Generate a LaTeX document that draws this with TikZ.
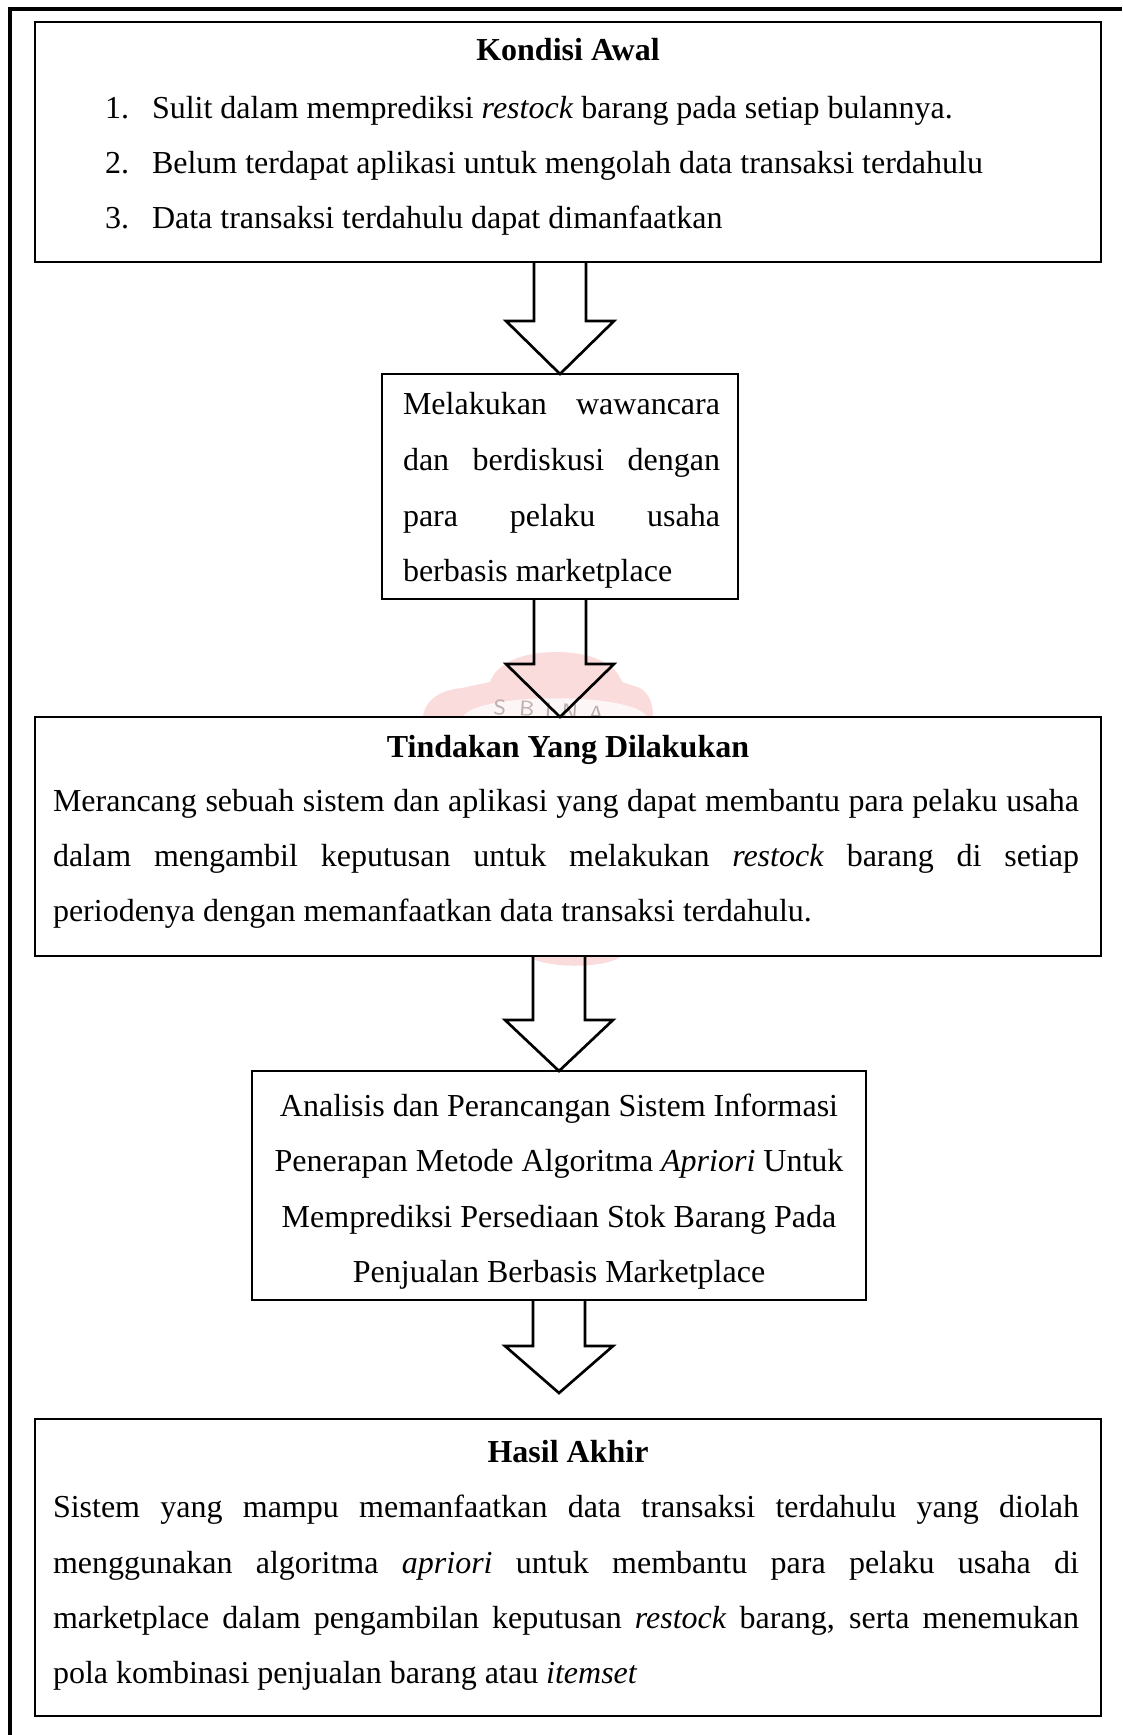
\documentclass[tikz,border=0pt]{standalone}
\usepackage{fontspec}
\setmainfont{Liberation Serif}
\usetikzlibrary{calc}

% one drawing unit = one pixel of the layout grid
\newlength\pxu
\setlength\pxu{0.375pt}
% a line stretched to a given width (in grid units)
\newcommand\jline[2]{\makebox[#1\pxu][s]{#2}}
% hollow block arrow: top centre, tip, head length
\newcommand\blockarr[3]{%
  \draw[arrowline] ($(#1)+(-26,0)$) -- ($(#2)+(-26,-#3)$) -- ($(#2)+(-54,-#3)$)
    -- (#2) -- ($(#2)+(54,-#3)$) -- ($(#2)+(26,-#3)$) -- ($(#1)+(26,0)$);}

\definecolor{sealpink}{RGB}{251,220,220}
\definecolor{sealtext}{RGB}{190,175,175}

\begin{document}
\begin{tikzpicture}[x=0.375pt,y=-0.375pt,
  box/.style={draw, line width=0.8pt, fill=white, inner sep=0pt, outer sep=0pt, anchor=north west},
  arrowline/.style={line width=1pt, line join=miter},
  txt/.style={inner sep=0pt, outer sep=0pt, font=\fontsize{12}{14}\selectfont},
  ttl/.style={txt, font=\fontsize{12}{14}\selectfont\bfseries, anchor=base},
  bodyl/.style={txt, anchor=base west},
  cline/.style={txt, anchor=base}]

\useasboundingbox (0,0) rectangle (1122,1735);
\fill[white] (0,0) rectangle (1122,1735);

% faint seal behind the third box
\fill[sealpink] (423,717) .. controls (425,700) and (440,690) .. (462,688)
  -- (490,682) .. controls (498,660) and (528,652) .. (556,652)
  .. controls (585,652) and (614,660) .. (622,682)
  -- (640,688) .. controls (650,694) and (653,705) .. (653,717) -- cycle;
\fill[white, opacity=0.75] (463,717) .. controls (475,692) and (635,692) .. (647,717) -- cycle;
\node[txt, text=sealtext, font=\sffamily\fontsize{8}{9}\selectfont, anchor=base west, rotate=-4] (sealname)
  at (493,714) {S\kern5pt B\kern4pt I\kern4pt N\kern4pt A};
\fill[sealpink] (528,956) .. controls (545,969) and (605,969) .. (622,956) -- cycle;

% outer page frame
\draw[line width=1.3pt] (10,1735) -- (10,9) -- (1122,9);

% boxes
\node[box, minimum width=1066\pxu, minimum height=240\pxu] (b1) at (35,22) {};
\node[box, minimum width=356\pxu,  minimum height=225\pxu] (b2) at (382,374) {};
\node[box, minimum width=1066\pxu, minimum height=239\pxu] (b3) at (35,717) {};
\node[box, minimum width=614\pxu,  minimum height=229\pxu] (b4) at (252,1071) {};
\node[box, minimum width=1066\pxu, minimum height=297\pxu] (b5) at (35,1419) {};

% box 1: initial condition
\node[ttl] (t1) at (568,61) {Kondisi Awal};
\node[bodyl] (n11) at (105,119) {1.};
\node[bodyl] (i11) at (152,119) {Sulit dalam memprediksi \textit{restock} barang pada setiap bulannya.};
\node[bodyl] (n12) at (105,174) {2.};
\node[bodyl] (i12) at (152,174) {Belum terdapat aplikasi untuk mengolah data transaksi terdahulu};
\node[bodyl] (n13) at (105,229) {3.};
\node[bodyl] (i13) at (152,229) {Data transaksi terdahulu dapat dimanfaatkan};

% box 2: interviews
\node[bodyl] (l21) at (403,415) {\jline{317}{Melakukan wawancara}};
\node[bodyl] (l22) at (403,471) {\jline{317}{dan berdiskusi dengan}};
\node[bodyl] (l23) at (403,526) {\jline{317}{para pelaku usaha}};
\node[bodyl] (l24) at (403,581) {berbasis marketplace};

% box 3: action taken
\node[ttl] (t3) at (568,757) {Tindakan Yang Dilakukan};
\node[bodyl] (l31) at (53,811) {\jline{1026}{Merancang sebuah sistem dan aplikasi yang dapat membantu para pelaku usaha}};
\node[bodyl] (l32) at (53,866) {\jline{1026}{dalam mengambil keputusan untuk melakukan \textit{restock} barang di setiap}};
\node[bodyl] (l33) at (53,921) {periodenya dengan memanfaatkan data transaksi terdahulu.};

% box 4: analysis and design
\node[cline] (l41) at (559,1116) {Analisis dan Perancangan Sistem Informasi};
\node[cline] (l42) at (559,1171) {Penerapan Metode Algoritma \textit{Apriori} Untuk};
\node[cline] (l43) at (559,1227) {Memprediksi Persediaan Stok Barang Pada};
\node[cline] (l44) at (559,1282) {Penjualan Berbasis Marketplace};

% box 5: final result
\node[ttl] (t5) at (568,1462) {Hasil Akhir};
\node[bodyl] (l51) at (53,1517) {\jline{1026}{Sistem yang mampu memanfaatkan data transaksi terdahulu yang diolah}};
\node[bodyl] (l52) at (53,1573) {\jline{1026}{menggunakan algoritma \textit{apriori} untuk membantu para pelaku usaha di}};
\node[bodyl] (l53) at (53,1628) {\jline{1026}{marketplace dalam pengambilan keputusan \textit{restock} barang, serta menemukan}};
\node[bodyl] (l54) at (53,1683) {pola kombinasi penjualan barang atau \textit{itemset}};

% block arrows between the boxes
\coordinate (a1top) at (b2.north |- b1.south);
\blockarr{a1top}{b2.north}{53}
\coordinate (a2tip) at (b2.south |- b3.north);
\blockarr{b2.south}{a2tip}{53}
\coordinate (a3top) at (b4.north |- b3.south);
\blockarr{a3top}{b4.north}{51}
\coordinate (a4tip) at ($(b4.south |- b5.north)+(0,-26)$);
\blockarr{b4.south}{a4tip}{47}

\end{tikzpicture}
\end{document}
